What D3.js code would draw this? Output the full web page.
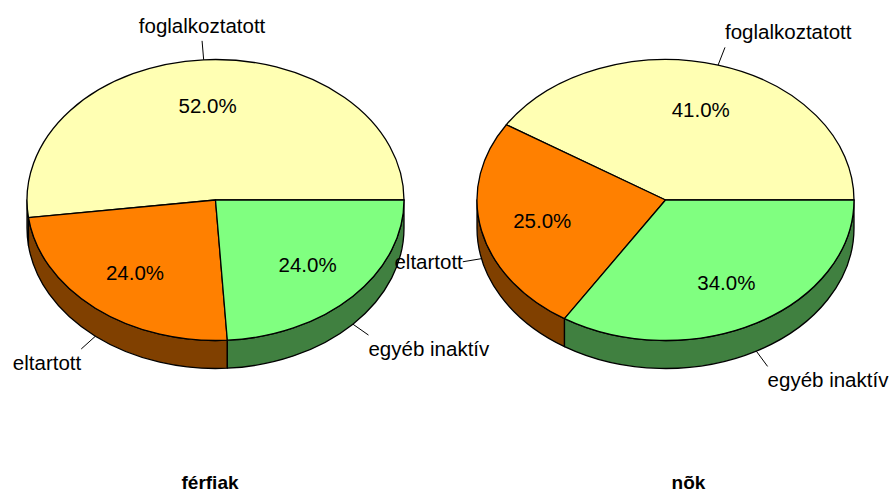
<!DOCTYPE html>
<html>
<head>
<meta charset="utf-8">
<script src="https://cdn.jsdelivr.net/npm/d3@7"></script>
<style>
  html, body { margin: 0; padding: 0; background: #fff; }
  svg { display: block; }
  text { font-family: "Liberation Sans", Arial, sans-serif; fill: #000; }
</style>
</head>
<body>
<svg id="chart" width="893" height="493"></svg>
<script>
// data
const categories = ["foglalkoztatott", "eltartott", "egyéb inaktív"];
const ferfiak = [52.0, 24.0, 24.0];
const nok = [41.0, 25.0, 34.0];
const groups = ["férfiak", "nõk"];

const topColors = ["#ffffb3", "#ff8000", "#80ff80"];
const sideColors = ["#80805a", "#804000", "#408040"];

const svg = d3.select("#chart");

const color = d3.scaleOrdinal().domain(categories).range(topColors);
const sideColor = d3.scaleOrdinal().domain(categories).range(sideColors);

const rx = 188.5, ry = 140.5, depth = 28;

const panels = [
  { title: groups[0], values: ferfiak, cx: 215.5, cy: 200, tx: 210 },
  { title: groups[1], values: nok, cx: 665.5, cy: 200, tx: 688.5 },
];

// counter-clockwise from 3 o'clock
const pie = d3.pie().sort(null).startAngle(Math.PI / 2).endAngle(Math.PI / 2 - 2 * Math.PI);

panels.forEach((p) => {
  const g = svg.append("g");
  const arcs = pie(p.values);
  const pt = (a, k = 1, dy = 0) => [p.cx + rx * k * Math.sin(a), p.cy - ry * k * Math.cos(a) + dy];

  // sides (front half only: angle between -3pi/2 and -pi/2)
  arcs.forEach((d, i) => {
    const hi = Math.min(d.startAngle, -Math.PI / 2);
    const lo = Math.max(d.endAngle, -3 * Math.PI / 2);
    if (lo >= hi) return;
    const a = pt(hi), b = pt(lo), c = pt(lo, 1, depth), e = pt(hi, 1, depth);
    const large = hi - lo > Math.PI ? 1 : 0;
    g.append("path")
      .attr("d", `M${a}A${rx},${ry} 0 ${large} 0 ${b}L${c}A${rx},${ry} 0 ${large} 1 ${e}Z`)
      .attr("fill", sideColor(categories[i]))
      .attr("stroke", "#000")
      .attr("stroke-width", 1.3)
      .attr("stroke-linejoin", "round");
  });

  // top faces
  arcs.forEach((d, i) => {
    const a = pt(d.startAngle), b = pt(d.endAngle);
    const large = d.startAngle - d.endAngle > Math.PI ? 1 : 0;
    g.append("path")
      .attr("d", `M${p.cx},${p.cy}L${a}A${rx},${ry} 0 ${large} 0 ${b}Z`)
      .attr("fill", color(categories[i]))
      .attr("stroke", "#000")
      .attr("stroke-width", 1.3)
      .attr("stroke-linejoin", "round");
  });

  // percentages
  arcs.forEach((d) => {
    const m = (d.startAngle + d.endAngle) / 2;
    const [x, y] = pt(m, 0.67);
    g.append("text")
      .attr("x", x)
      .attr("y", y)
      .attr("dy", "0.36em")
      .attr("text-anchor", "middle")
      .style("font-size", "20.5px")
      .text(d3.format(".1f")(d.value) + "%");
  });

  // category labels with leader lines
  arcs.forEach((d, i) => {
    const m = (d.startAngle + d.endAngle) / 2;
    const front = Math.cos(m) < 0;
    const s = pt(m, 1, front ? depth : 0);
    let dx = rx * Math.sin(m), dy = -ry * Math.cos(m);
    const len = Math.hypot(dx, dy);
    dx /= len; dy /= len;
    const e = [s[0] + dx * 19, s[1] + dy * 19];
    g.append("line")
      .attr("x1", s[0]).attr("y1", s[1])
      .attr("x2", e[0]).attr("y2", e[1])
      .attr("stroke", "#000")
      .attr("stroke-width", 1);
    const anchor = Math.abs(dx) < 0.3 ? "middle" : dx > 0 ? "start" : "end";
    const off = dy < -0.5 ? -8 : dy > 0.5 ? 21 : 7;
    g.append("text")
      .attr("x", e[0])
      .attr("y", e[1] + off)
      .attr("text-anchor", anchor)
      .style("font-size", "20.5px")
      .text(categories[i]);
  });

  svg.append("text")
    .attr("x", p.tx)
    .attr("y", 489)
    .attr("text-anchor", "middle")
    .style("font-size", "19px")
    .style("font-weight", "bold")
    .text(p.title);
});
</script>
</body>
</html>
